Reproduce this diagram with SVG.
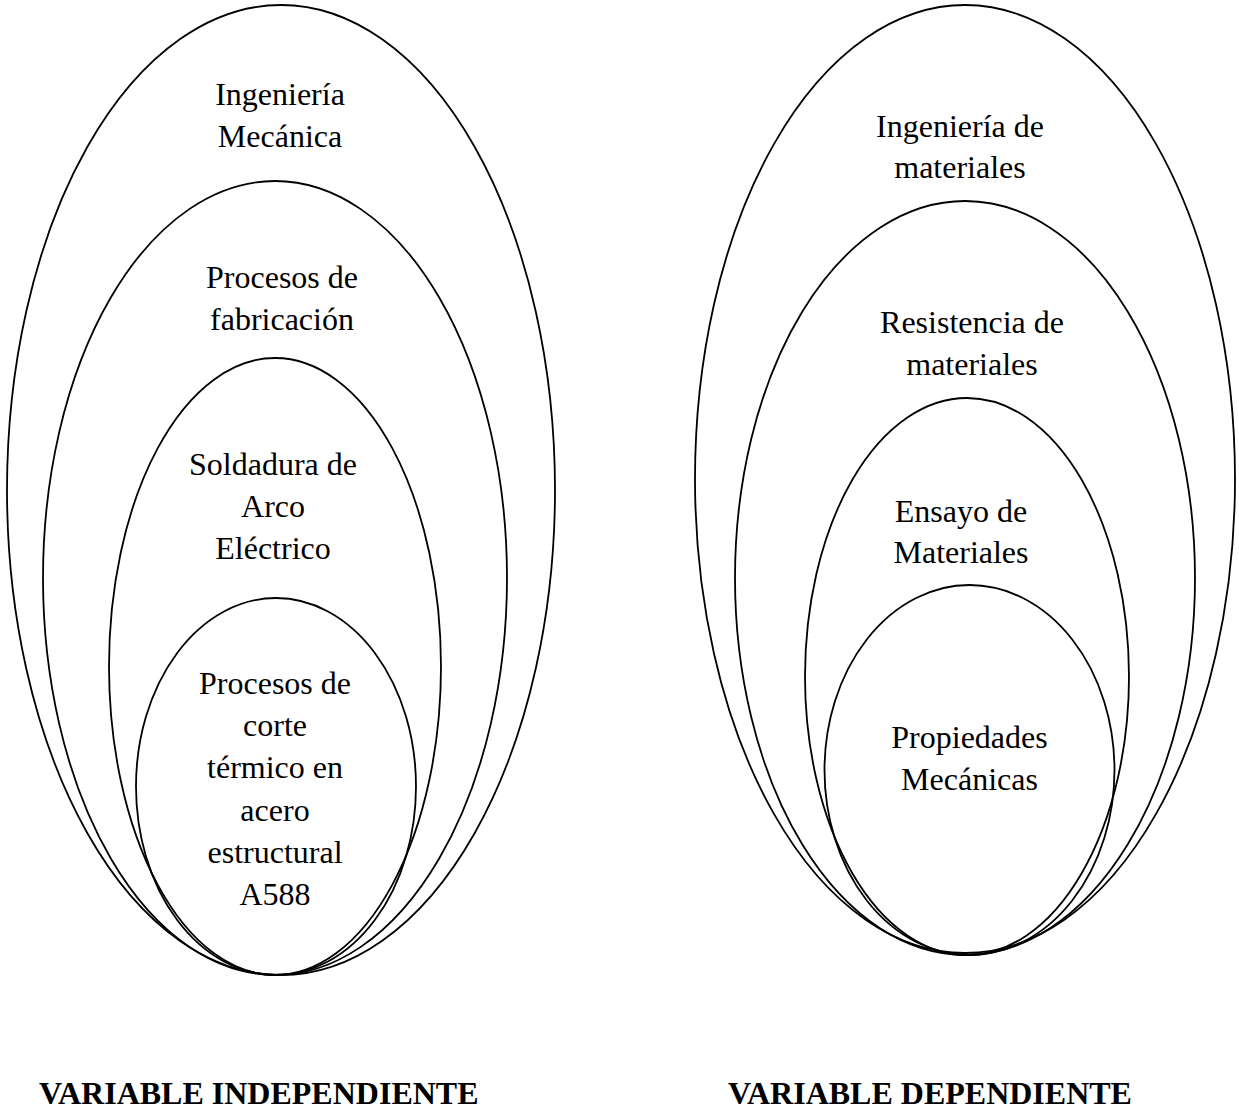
<svg xmlns="http://www.w3.org/2000/svg" width="1239" height="1111" viewBox="0 0 1239 1111">
<style>
.e{fill:none;stroke:#000;stroke-width:1.8}
.t{font-family:"Liberation Serif","Times New Roman",serif;font-size:32px;fill:#000;text-anchor:middle}
.b{font-family:"Liberation Serif","Times New Roman",serif;font-size:32px;font-weight:bold;fill:#000}
</style>
<rect width="1239" height="1111" fill="#fff"/>
<g id="left-ingenieria-mecanica">
<ellipse class="e" cx="281" cy="490" rx="274" ry="485"/>
<text class="t" x="280" y="105">Ingeniería</text>
<text class="t" x="280" y="147">Mecánica</text>
</g>
<g id="left-procesos-fabricacion">
<ellipse class="e" cx="275" cy="578" rx="232" ry="397"/>
<text class="t" x="282" y="288">Procesos de</text>
<text class="t" x="282" y="330">fabricación</text>
</g>
<g id="left-soldadura">
<ellipse class="e" cx="275" cy="666.5" rx="166" ry="308.5"/>
<text class="t" x="273" y="474.5">Soldadura de</text>
<text class="t" x="273" y="517">Arco</text>
<text class="t" x="273" y="559">Eléctrico</text>
</g>
<g id="left-corte-termico">
<ellipse class="e" cx="276" cy="786.5" rx="140" ry="188.5"/>
<text class="t" x="275" y="694">Procesos de</text>
<text class="t" x="275" y="736">corte</text>
<text class="t" x="275" y="778">térmico en</text>
<text class="t" x="275" y="820.5">acero</text>
<text class="t" x="275" y="863">estructural</text>
<text class="t" x="275" y="905">A588</text>
</g>
<g id="right-ingenieria-materiales">
<ellipse class="e" cx="965" cy="479" rx="270" ry="474"/>
<text class="t" x="960" y="136.7">Ingeniería de</text>
<text class="t" x="960" y="178.3">materiales</text>
</g>
<g id="right-resistencia">
<ellipse class="e" cx="965" cy="578" rx="230" ry="377"/>
<text class="t" x="972" y="333.3">Resistencia de</text>
<text class="t" x="972" y="375">materiales</text>
</g>
<g id="right-ensayo">
<ellipse class="e" cx="967" cy="676.5" rx="162" ry="278.5"/>
<text class="t" x="961" y="521.7">Ensayo de</text>
<text class="t" x="961" y="563.3">Materiales</text>
</g>
<g id="right-propiedades">
<ellipse class="e" cx="969.5" cy="770" rx="145" ry="185"/>
<text class="t" x="969.5" y="748.3">Propiedades</text>
<text class="t" x="969.5" y="790">Mecánicas</text>
</g>
<g id="connectors"/>
<g id="labels">
<text class="b" x="39" y="1104">VARIABLE INDEPENDIENTE</text>
<text class="b" x="728" y="1104">VARIABLE DEPENDIENTE</text>
</g>
</svg>
